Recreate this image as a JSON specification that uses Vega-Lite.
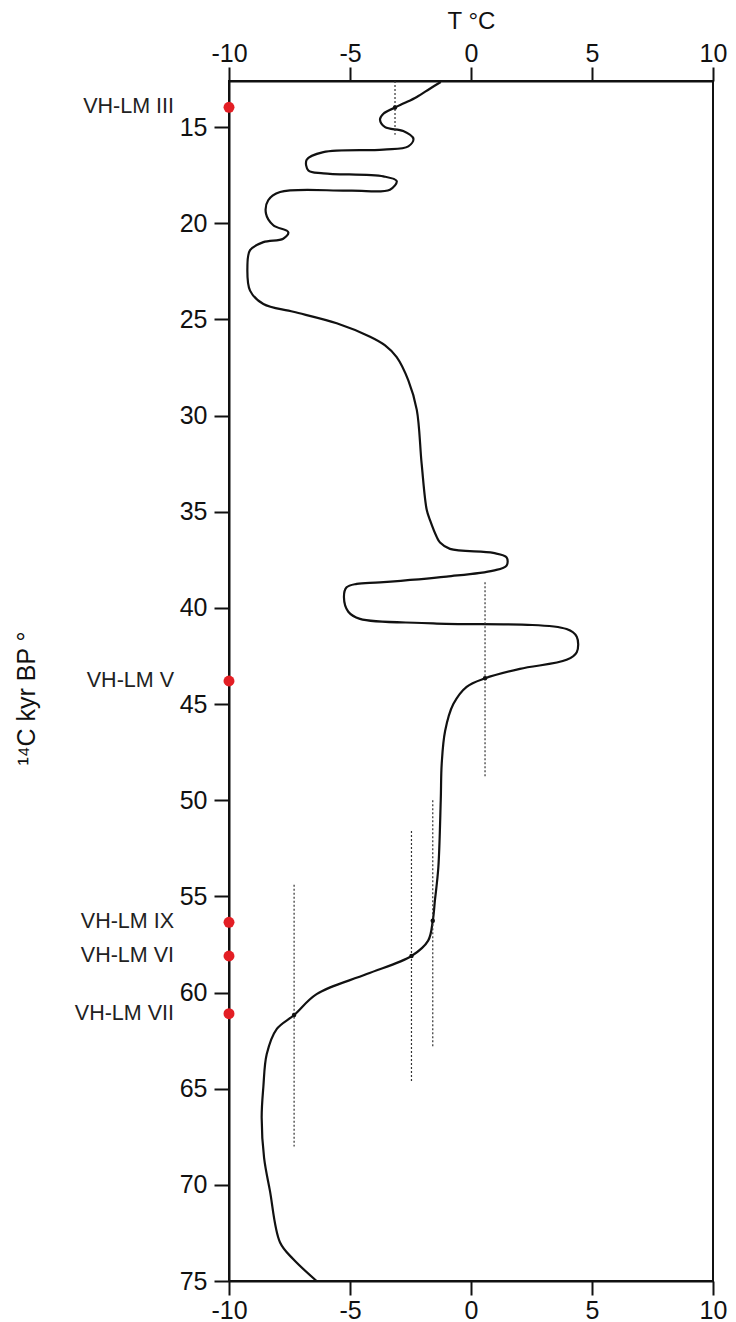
{
  "$schema": "https://vega.github.io/schema/vega-lite/v6.json",
  "width": 484,
  "height": 1200,
  "autosize": {"type": "none"},
  "padding": {"left": 229, "top": 81, "right": 23, "bottom": 41},
  "config": {
    "view": {"stroke": "#111", "strokeWidth": 2},
    "font": "Liberation Sans",
    "axis": {"grid": false, "domainColor": "#111", "domainWidth": 2, "tickColor": "#111", "tickWidth": 2, "labelColor": "#111", "labelFont": "Liberation Sans", "titleFont": "Liberation Sans", "titleColor": "#111", "titleFontWeight": "normal"}
  },
  "datasets": {
    "curve": [
      {"age": 12.65, "T": -1.25}, {"age": 13.0, "T": -1.7}, {"age": 13.43, "T": -2.24}, {"age": 13.75, "T": -2.75},
      {"age": 13.98, "T": -3.14}, {"age": 14.3, "T": -3.62}, {"age": 14.6, "T": -3.76}, {"age": 15.0, "T": -3.55},
      {"age": 15.2, "T": -2.8}, {"age": 15.6, "T": -2.38}, {"age": 16.0, "T": -2.59}, {"age": 16.17, "T": -3.62},
      {"age": 16.3, "T": -6.1}, {"age": 16.7, "T": -6.79}, {"age": 17.25, "T": -6.72}, {"age": 17.4, "T": -6.1},
      {"age": 17.56, "T": -3.62}, {"age": 17.8, "T": -3.07}, {"age": 18.25, "T": -3.35}, {"age": 18.3, "T": -5.0},
      {"age": 18.37, "T": -7.89}, {"age": 18.8, "T": -8.38}, {"age": 19.5, "T": -8.47}, {"age": 20.1, "T": -8.17},
      {"age": 20.46, "T": -7.55}, {"age": 20.8, "T": -7.76}, {"age": 20.98, "T": -8.58}, {"age": 21.4, "T": -9.13},
      {"age": 22.3, "T": -9.24}, {"age": 23.5, "T": -9.13}, {"age": 24.2, "T": -8.58}, {"age": 24.6, "T": -7.34},
      {"age": 25.2, "T": -5.55}, {"age": 25.9, "T": -4.17}, {"age": 26.35, "T": -3.55}, {"age": 26.96, "T": -3.07},
      {"age": 28.17, "T": -2.59}, {"age": 29.7, "T": -2.24}, {"age": 32.5, "T": -2.04}, {"age": 34.9, "T": -1.83},
      {"age": 35.45, "T": -1.69}, {"age": 36.3, "T": -1.42}, {"age": 36.6, "T": -1.28}, {"age": 36.93, "T": -0.87},
      {"age": 37.14, "T": 0.92}, {"age": 37.37, "T": 1.47}, {"age": 37.8, "T": 1.47}, {"age": 38.06, "T": 0.92},
      {"age": 38.37, "T": -1.01}, {"age": 38.67, "T": -3.76}, {"age": 38.75, "T": -4.72}, {"age": 38.93, "T": -5.14},
      {"age": 39.45, "T": -5.25}, {"age": 40.2, "T": -5.07}, {"age": 40.57, "T": -4.59}, {"age": 40.8, "T": -1.56},
      {"age": 41.1, "T": 3.95}, {"age": 41.5, "T": 4.37}, {"age": 42.3, "T": 4.37}, {"age": 42.7, "T": 3.95},
      {"age": 43.17, "T": 2.02}, {"age": 43.66, "T": 0.58}, {"age": 44.1, "T": -0.18}, {"age": 45.0, "T": -0.73},
      {"age": 46.4, "T": -1.07}, {"age": 48.1, "T": -1.21}, {"age": 50.0, "T": -1.25}, {"age": 53.5, "T": -1.35},
      {"age": 55.2, "T": -1.49}, {"age": 56.27, "T": -1.58}, {"age": 57.3, "T": -1.77}, {"age": 58.1, "T": -2.46},
      {"age": 59.04, "T": -4.31}, {"age": 60.08, "T": -6.38}, {"age": 61.17, "T": -7.31}, {"age": 61.9, "T": -8.03},
      {"age": 63.2, "T": -8.44}, {"age": 64.9, "T": -8.58}, {"age": 66.5, "T": -8.65}, {"age": 68.6, "T": -8.55},
      {"age": 70.3, "T": -8.31}, {"age": 73.0, "T": -7.89}, {"age": 73.87, "T": -7.34}, {"age": 75.0, "T": -6.38}
    ],
    "dots": [
      {"age": 13.98, "T": -3.14}, {"age": 43.66, "T": 0.58}, {"age": 56.27, "T": -1.58}, {"age": 58.1, "T": -2.46}, {"age": 61.17, "T": -7.31}
    ],
    "dashes": [
      {"T": -3.14, "from": 12.6, "to": 15.4},
      {"T": 0.58, "from": 38.67, "to": 48.8},
      {"T": -1.58, "from": 50.0, "to": 62.8},
      {"T": -2.46, "from": 51.6, "to": 64.7},
      {"T": -7.31, "from": 54.4, "to": 68.0}
    ],
    "samples": [
      {"sample": "VH-LM III", "age": 13.97},
      {"sample": "VH-LM V", "age": 43.8},
      {"sample": "VH-LM IX", "age": 56.35},
      {"sample": "VH-LM VI", "age": 58.1},
      {"sample": "VH-LM VII", "age": 61.1}
    ]
  },
  "resolve": {"axis": {"x": "independent", "y": "independent"}},
  "layer": [
    {
      "data": {"name": "curve"},
      "mark": {"type": "line", "interpolate": "catmull-rom", "color": "#111", "strokeWidth": 2.2},
      "encoding": {
        "x": {"field": "T", "type": "quantitative", "scale": {"domain": [-10, 10], "nice": false, "zero": false},
          "axis": {"orient": "top", "values": [-10, -5, 0, 5, 10], "labelExpr": "'' + datum.value", "tickSize": 14, "labelFontSize": 25, "labelPadding": 1, "labelFlush": false,
            "title": "T °C", "titleFontSize": 24, "titleX": 242, "titleY": -60, "titleAlign": "center", "titleBaseline": "middle", "titleAngle": 0}},
        "y": {"field": "age", "type": "quantitative", "scale": {"domain": [12.6, 75], "reverse": true, "nice": false, "zero": false},
          "axis": {"orient": "left", "values": [15, 20, 25, 30, 35, 40, 45, 50, 55, 60, 65, 70, 75], "tickSize": 15, "labelFontSize": 25, "labelPadding": 7, "labelFlush": false,
            "title": "¹⁴C kyr BP °", "titleFontSize": 25, "titleX": -203, "titleY": 617, "titleAngle": -90, "titleAlign": "center", "titleBaseline": "middle"}},
        "order": {"field": "age", "type": "quantitative"}
      }
    },
    {
      "data": {"name": "dashes"},
      "mark": {"type": "rule", "strokeDash": [2, 2], "strokeWidth": 1.2, "color": "#333"},
      "encoding": {
        "x": {"field": "T", "type": "quantitative",
          "axis": {"orient": "bottom", "values": [-10, -5, 0, 5, 10], "labelExpr": "'' + datum.value", "tickSize": 14, "labelFontSize": 25, "labelPadding": 3, "labelFlush": false, "title": null}},
        "y": {"field": "from", "type": "quantitative", "axis": null},
        "y2": {"field": "to"}
      }
    },
    {
      "data": {"name": "dots"},
      "mark": {"type": "point", "filled": true, "shape": "circle", "size": 20, "color": "#111", "opacity": 1},
      "encoding": {
        "x": {"field": "T", "type": "quantitative", "axis": null},
        "y": {"field": "age", "type": "quantitative", "axis": null}
      }
    },
    {
      "data": {"name": "samples"},
      "mark": {"type": "point", "filled": true, "shape": "circle", "size": 120, "color": "#e31e24", "opacity": 1},
      "encoding": {
        "x": {"datum": -10, "type": "quantitative", "axis": null},
        "y": {"field": "age", "type": "quantitative", "axis": null}
      }
    },
    {
      "data": {"name": "samples"},
      "mark": {"type": "text", "align": "right", "baseline": "middle", "dx": -55, "fontSize": 21.5, "font": "Liberation Sans", "color": "#222"},
      "encoding": {
        "x": {"datum": -10, "type": "quantitative", "axis": null},
        "y": {"field": "age", "type": "quantitative", "axis": null},
        "text": {"field": "sample"}
      }
    }
  ]
}
